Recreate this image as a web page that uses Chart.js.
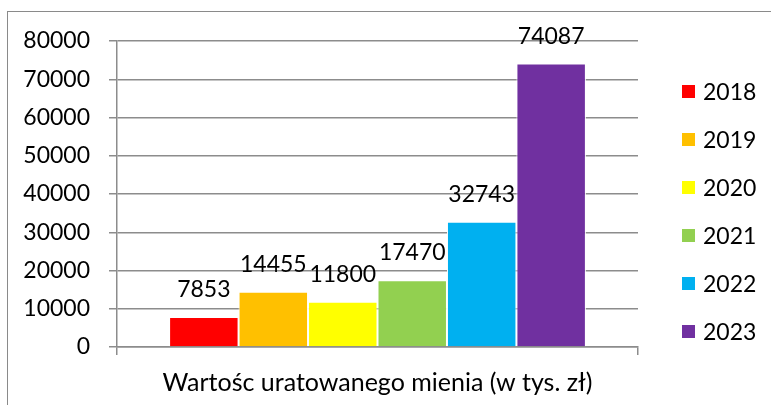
<!DOCTYPE html>
<html>
<head>
<meta charset="utf-8">
<script src="https://cdn.jsdelivr.net/npm/chart.js@4.4.1/dist/chart.umd.min.js"></script>
<style>
  body { margin: 0; background: #fff; }
  #wrap { position: relative; width: 771px; height: 405px; overflow: hidden; font-family: Lato, sans-serif; }
  #frame { position: absolute; left: 7px; top: 11px; width: 820px; height: 440px; border: 1px solid #8a8a8a; }
  #chart { position: absolute; left: 0; top: 0; }
  #legend { position: absolute; left: 682px; top: 67px; }
  #legend div { height: 48px; display: flex; align-items: center; font-size: 23px; color: #000; }
  #legend span { display: inline-block; width: 13px; height: 13px; margin-right: 8px; }
</style>
</head>
<body>
<div id="wrap">
  <div id="frame"></div>
  <canvas id="chart" width="771" height="405"></canvas>
  <div id="legend"></div>
</div>
<script>
// one category, one dataset per year
const categories = ['Wartośc uratowanego mienia (w tys. zł)'];
const years = ['2018', '2019', '2020', '2021', '2022', '2023'];
const values = [7853, 14455, 11800, 17470, 32743, 74087];
const colors = ['#FF0000', '#FFC000', '#FFFF00', '#92D050', '#00B0F0', '#7030A0'];
const yTicks = [0, 10000, 20000, 30000, 40000, 50000, 60000, 70000, 80000];

const gridColor = '#8c8c8c';
const numFont = { family: 'Lato', size: 23 };

// value labels above the bars
const barLabels = {
  id: 'barLabels',
  afterDatasetsDraw(chart) {
    const ctx = chart.ctx;
    ctx.save();
    ctx.font = '23px Lato';
    ctx.fillStyle = '#000';
    ctx.textAlign = 'center';
    ctx.textBaseline = 'alphabetic';
    chart.data.datasets.forEach((ds, i) => {
      chart.getDatasetMeta(i).data.forEach((el, j) => {
        ctx.fillText(String(ds.data[j]), el.x, el.y - 20);
      });
    });
    ctx.restore();
  }
};

const datasets = years.map((y, i) => ({
  label: y,
  data: [values[i]],
  backgroundColor: colors[i],
  borderColor: '#fff',
  borderWidth: 1,
  barPercentage: 1,
  categoryPercentage: 0.8
}));

new Chart(document.getElementById('chart'), {
  type: 'bar',
  data: { labels: categories, datasets: datasets },
  options: {
    responsive: false,
    animation: false,
    layout: { padding: { left: 0, top: 41, right: 133, bottom: 0 } },
    plugins: { legend: { display: false }, tooltip: { enabled: false } },
    scales: {
      x: {
        offset: true,
        grid: { offset: true, drawOnChartArea: false, color: gridColor, lineWidth: 1.5, tickLength: 8 },
        border: { color: gridColor, width: 1.5 },
        ticks: { font: { family: 'Lato', size: 25 }, color: '#000', padding: 13, maxRotation: 0 },
        afterFit(scale) { scale.height = 58; }
      },
      y: {
        min: 0,
        max: 80000,
        afterBuildTicks(scale) { scale.ticks = yTicks.map(v => ({ value: v })); },
        grid: { color: gridColor, lineWidth: 1.5, tickLength: 8 },
        border: { color: gridColor, width: 1.5 },
        ticks: { font: numFont, color: '#000', padding: 19, callback: v => String(v) },
        afterFit(scale) { scale.width = 117; }
      }
    }
  },
  plugins: [barLabels]
});

// legend built from the same arrays
const legend = document.getElementById('legend');
years.forEach((y, i) => {
  const row = document.createElement('div');
  row.innerHTML = '<span style="background:' + colors[i] + '"></span>' + y;
  legend.appendChild(row);
});
</script>
</body>
</html>
